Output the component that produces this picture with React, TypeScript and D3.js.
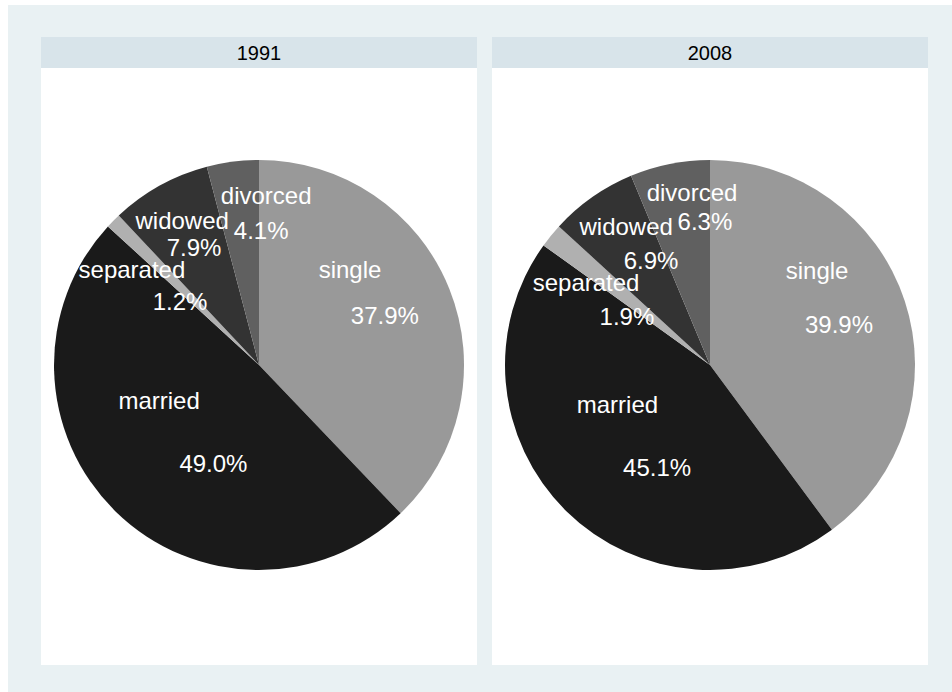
import React from "react";
import * as d3 from "d3";

// ---------- data ----------
const years = ["1991", "2008"];
const categories = ["single", "married", "separated", "widowed", "divorced"];
const values1991 = [37.9, 49.0, 1.2, 7.9, 4.1];
const values2008 = [39.9, 45.1, 1.9, 6.9, 6.3];
const seriesByYear = [values1991, values2008];

// ---------- styles / layout ----------
const sliceColors = ["#999999", "#1a1a1a", "#b0b0b0", "#333333", "#606060"];
const W = 952;
const H = 692;
const BG = "#e9f1f3";
const HEADER = "#d8e4ea";

// label placement per panel, per category:
// [name angle offset (deg, from slice mid-angle), name radius fraction,
//  percent angle offset, percent radius fraction]
const labelPlacement1991 = [
  [-24.4, 0.642, 0.5, 0.659],
  [25.8, 0.518, -19.7, 0.532],
  [-7.8, 0.775, -6.1, 0.493],
  [0.9, 0.797, -0.1, 0.653],
  [9.8, 0.825, 8.3, 0.654],
];
const labelPlacement2008 = [
  [-23.0, 0.695, 0.7, 0.66],
  [22.0, 0.492, -17.4, 0.565],
  [-5.6, 0.725, -9.1, 0.468],
  [3.8, 0.788, 5.5, 0.583],
  [5.4, 0.848, 9.3, 0.698],
];
const placements = [labelPlacement1991, labelPlacement2008];

export default function App() {
  const panelX = d3
    .scaleBand<string>()
    .domain(years)
    .range([41, 928])
    .paddingInner(15 / 451)
    .paddingOuter(0);

  const panelTop = 37;
  const headerH = 31;
  const panelBottom = 665;
  const radius = 205;
  const cy = 365;

  const pie = d3
    .pie<number>()
    .sort(null)
    .value((d) => d);
  const arc = d3.arc<d3.PieArcDatum<number>>().innerRadius(0).outerRadius(radius);

  const font = "'Liberation Sans', Arial, Helvetica, sans-serif";

  return (
    <svg
      width={W}
      height={H}
      style={{ position: "absolute", left: 0, top: 0, display: "block" }}
      fontFamily={font}
    >
      <rect x={0} y={0} width={W} height={H} fill="#ffffff" />
      <rect x={8} y={5} width={W - 8} height={H - 5} fill={BG} />
      {years.map((yr, pi) => {
        const x0 = panelX(yr) as number;
        const bw = panelX.bandwidth();
        const cx = x0 + bw / 2;
        const arcs = pie(seriesByYear[pi]);
        const place = placements[pi];
        return (
          <g key={yr}>
            <rect x={x0} y={panelTop} width={bw} height={panelBottom - panelTop} fill="#ffffff" />
            <rect x={x0} y={panelTop} width={bw} height={headerH} fill={HEADER} />
            <text
              x={cx}
              y={panelTop + headerH / 2}
              dy="0.35em"
              textAnchor="middle"
              fontSize={20}
              fill="#000"
            >
              {yr}
            </text>
            <g transform={`translate(${cx},${cy})`}>
              {arcs.map((a, i) => (
                <path key={categories[i]} d={arc(a) || ""} fill={sliceColors[i]} />
              ))}
              {arcs.map((a, i) => {
                const mid = (a.startAngle + a.endAngle) / 2;
                const [nOff, nR, pOff, pR] = place[i];
                const na = mid + (nOff * Math.PI) / 180;
                const pa = mid + (pOff * Math.PI) / 180;
                const nx = Math.sin(na) * nR * radius;
                const ny = -Math.cos(na) * nR * radius;
                const px = Math.sin(pa) * pR * radius;
                const py = -Math.cos(pa) * pR * radius;
                return (
                  <g key={"lab" + categories[i]} fill="#ffffff" fontSize={24} textAnchor="middle">
                    <text x={nx} y={ny} dy="0.35em">
                      {categories[i]}
                    </text>
                    <text x={px} y={py} dy="0.35em">
                      {a.data.toFixed(1) + "%"}
                    </text>
                  </g>
                );
              })}
            </g>
          </g>
        );
      })}
    </svg>
  );
}
